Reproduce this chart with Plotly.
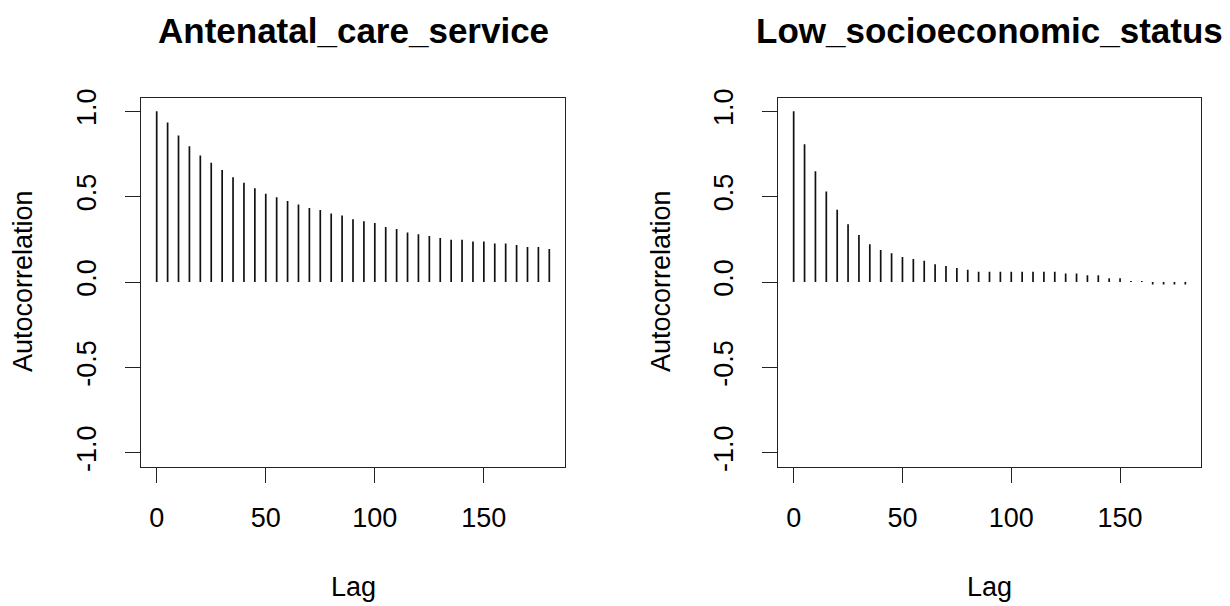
import plotly.graph_objects as go

lags = list(range(0, 181, 5))
antenatal_care_service = [1.000, 0.933, 0.858, 0.794, 0.741, 0.698, 0.656, 0.613, 0.581, 0.549,
                          0.516, 0.496, 0.474, 0.453, 0.433, 0.421, 0.401, 0.389, 0.368, 0.356,
                          0.346, 0.322, 0.310, 0.290, 0.280, 0.270, 0.258, 0.247, 0.247, 0.237,
                          0.237, 0.225, 0.225, 0.217, 0.205, 0.205, 0.193]
low_socioeconomic_status = [1.000, 0.806, 0.648, 0.530, 0.423, 0.338, 0.275, 0.221, 0.188, 0.168,
                            0.146, 0.134, 0.124, 0.104, 0.093, 0.082, 0.072, 0.060, 0.060, 0.060,
                            0.060, 0.060, 0.060, 0.060, 0.060, 0.050, 0.050, 0.040, 0.040, 0.022,
                            0.022, 0.006, 0.006, -0.015, -0.015, -0.015, -0.015]
titles = ["Antenatal_care_service", "Low_socioeconomic_status"]
x_ticks = [0, 50, 100, 150]
y_ticks = [-1.0, -0.5, 0.0, 0.5, 1.0]
y_tick_labels = ["-1.0", "-0.5", "0.0", "0.5", "1.0"]

W, H = 1230, 606
FONT = "Liberation Sans, Arial, sans-serif"

def stems(xs, ys):
    sx, sy = [], []
    for x, y in zip(xs, ys):
        sx += [x, x, None]
        sy += [0, y, None]
    return sx, sy

fig = go.Figure()
series = [antenatal_care_service, low_socioeconomic_status]
xdomains = [(141 / W, 565 / W), (778 / W, 1201 / W)]
ydomain = ((H - 466.5) / H, (H - 97.5) / H)

for i, vals in enumerate(series):
    sx, sy = stems(lags, vals)
    suffix = "" if i == 0 else str(i + 1)
    fig.add_trace(go.Scatter(x=sx, y=sy, mode="lines",
                             line=dict(color="#111111", width=1.7),
                             xaxis="x" + suffix, yaxis="y" + suffix,
                             hoverinfo="skip", showlegend=False))
    axcommon = dict(showline=True, mirror=True, linecolor="#222222", linewidth=1.3,
                    ticks="outside", ticklen=15, tickcolor="#222222", tickwidth=1.3,
                    showgrid=False, zeroline=False, automargin=False,
                    tickfont=dict(family=FONT, size=27, color="black"))
    fig.layout["xaxis" + suffix] = dict(axcommon, domain=xdomains[i], range=[-7.2, 187.2],
                                        tickvals=x_ticks, anchor="y" + suffix,
                                        ticklabelstandoff=12)
    fig.layout["yaxis" + suffix] = dict(axcommon, domain=ydomain, range=[-1.08, 1.08],
                                        tickvals=y_ticks, ticktext=y_tick_labels,
                                        tickangle=-90, anchor="x" + suffix,
                                        ticklabelstandoff=18)
    cx = (xdomains[i][0] + xdomains[i][1]) / 2
    fig.add_annotation(text="<b>" + titles[i] + "</b>", x=cx, y=(H - 30) / H,
                       xref="paper", yref="paper", showarrow=False,
                       font=dict(family=FONT, size=35, color="black"),
                       xanchor="center", yanchor="middle")
    fig.add_annotation(text="Lag", x=cx, y=(H - 587) / H,
                       xref="paper", yref="paper", showarrow=False,
                       font=dict(family=FONT, size=27, color="black"),
                       xanchor="center", yanchor="middle")
    ytx = 23 if i == 0 else 661
    fig.add_annotation(text="Autocorrelation", x=ytx / W, y=(H - 281) / H,
                       xref="paper", yref="paper", showarrow=False, textangle=-90,
                       font=dict(family=FONT, size=27, color="black"),
                       xanchor="center", yanchor="middle")

fig.update_layout(width=W, height=H, margin=dict(l=0, r=0, t=0, b=0, pad=0, autoexpand=False),
                  paper_bgcolor="white", plot_bgcolor="white")
fig.write_html("out.html")
